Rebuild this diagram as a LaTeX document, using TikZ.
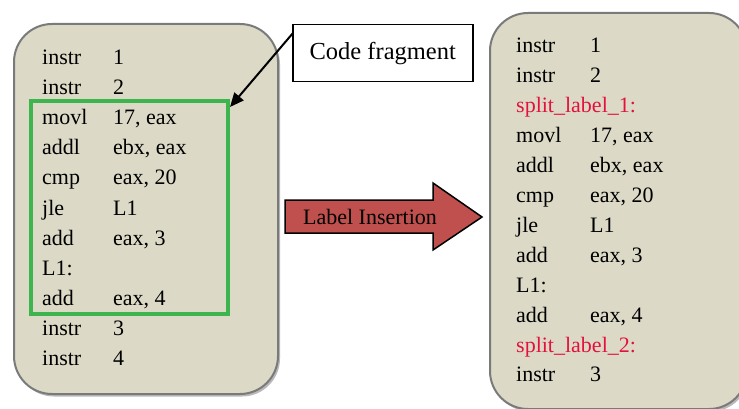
\documentclass[tikz,border=0pt]{standalone}
\usepackage{fontspec}
\setmainfont{Liberation Serif}
\usetikzlibrary{shadows,arrows.meta}
\definecolor{panel}{HTML}{DCDAC7}
\definecolor{panelline}{HTML}{7A7A7A}
\definecolor{frag}{HTML}{3DB54E}
\definecolor{insertfill}{HTML}{C0504D}
\definecolor{newlabel}{HTML}{E3123C}
\begin{document}
\begin{tikzpicture}[x=1pt,y=-1pt,
  panelbox/.style={draw=panelline,line width=2pt,fill=panel,rounded corners=38pt,
    anchor=north west,inner sep=0pt,
    drop shadow={shadow xshift=2pt,shadow yshift=-2.5pt,fill=black!50,opacity=0.55}},
  code/.style={anchor=base west,inner sep=0pt,font=\fontsize{22}{26}\selectfont},
  fragbox/.style={draw=frag,line width=4pt,anchor=north west,inner sep=0pt},
  callout/.style={draw=black,line width=1.5pt,fill=white,anchor=north west,inner sep=0pt,
    font=\fontsize{24.5}{28}\selectfont},
  pointer/.style={draw=black,line width=2pt,-{Triangle[length=14pt,width=12pt]}}]
\useasboundingbox (0,0) rectangle (739,409);

% panels
\node[panelbox,minimum width=264pt,minimum height=370pt] (before) at (13,23) {};
\node[panelbox,minimum width=257pt,minimum height=396pt] (after) at (489,12) {};

% original listing
\foreach [count=\i] \op/\arg in {instr/1,instr/2,movl/{17, eax},addl/{ebx, eax},
    cmp/{eax, 20},jle/L1,add/{eax, 3},L1:/{},add/{eax, 4},instr/3,instr/4}{
  \node[code] (bop\i) at (42,{65+30*(\i-1)}) {\op};
  \node[code] (barg\i) at (113,{65+30*(\i-1)}) {\arg};
}

% fragment frame
\node[fragbox,minimum width=197pt,minimum height=213pt] (fragment) at (29,99) {};

% listing after insertion
\foreach [count=\i] \op/\arg in {instr/1,instr/2,{}/{},movl/{17, eax},addl/{ebx, eax},
    cmp/{eax, 20},jle/L1,add/{eax, 3},L1:/{},add/{eax, 4},{}/{},instr/3}{
  \node[code] (aop\i) at (516,{53+29.9*(\i-1)}) {\op};
  \node[code] (aarg\i) at (590,{53+29.9*(\i-1)}) {\arg};
}
\node[code,text=newlabel] (split1) at (516,{53+29.9*2}) {split\_label\_1:};
\node[code,text=newlabel] (split2) at (516,{53+29.9*10}) {split\_label\_2:};

% callout
\node[callout,minimum width=180pt,minimum height=57pt] (cf) at (292,24) {Code fragment};
\coordinate (cfstart) at (293,33);
\coordinate (fragtip) at (230,107);
\draw[pointer] (cfstart) -- (fragtip);

% transformation arrow
\draw[fill=insertfill,line width=1.5pt,line join=miter]
  (285,200) -- (433,200) -- (433,183) -- (482,217) -- (433,250) -- (433,233) -- (285,233) -- cycle;
\node[inner sep=0pt,font=\fontsize{22}{26}\selectfont] (insertion) at (370,217) {Label Insertion};
\end{tikzpicture}
\end{document}
